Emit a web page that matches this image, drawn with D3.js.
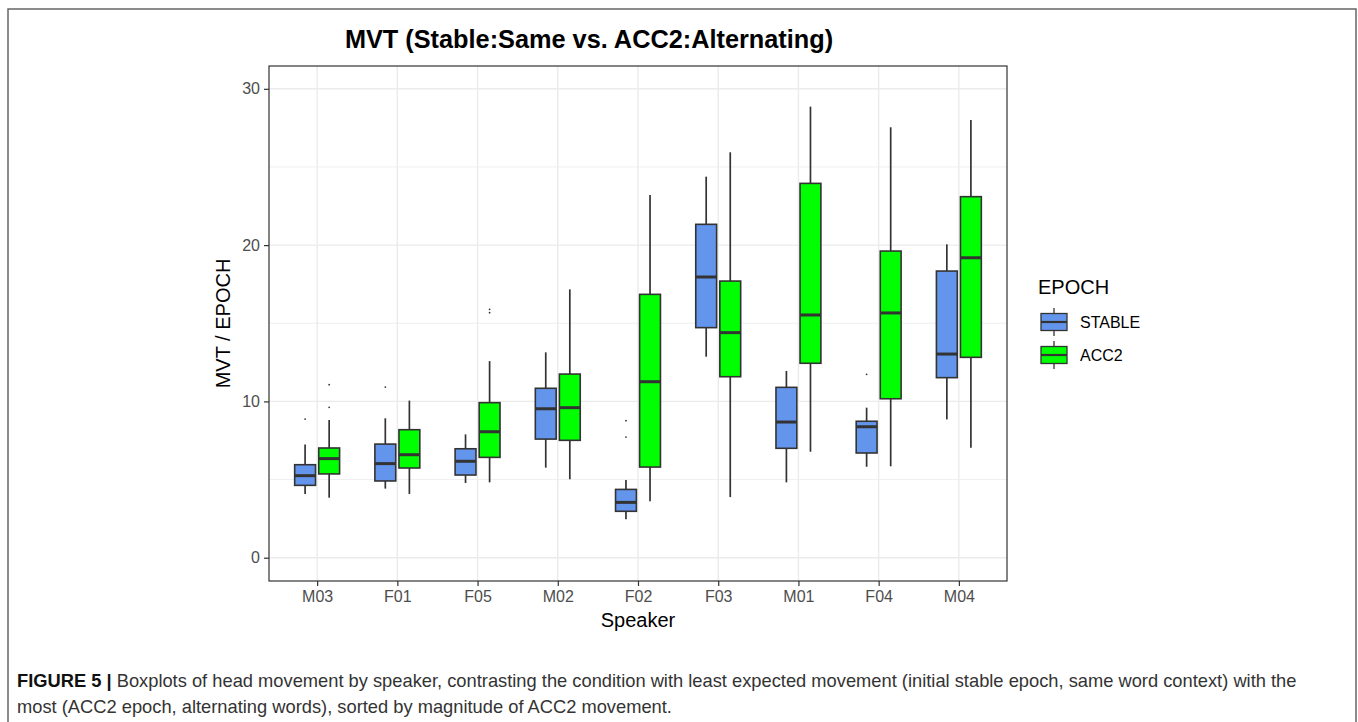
<!DOCTYPE html>
<html>
<head>
<meta charset="utf-8">
<script src="https://cdn.jsdelivr.net/npm/d3@7"></script>
<style>
  body { margin: 0; background: #fff; }
  text { font-family: "Liberation Sans", Arial, sans-serif; }
</style>
</head>
<body>
<script>
// speakers, sorted by ACC2 movement
var speakers = ["M03", "F01", "F05", "M02", "F02", "F03", "M01", "F04", "M04"];
var epochs = ["STABLE", "ACC2"];
var yTicks = [0, 10, 20, 30];
var yMinorTicks = [5, 15, 25];

// STABLE epoch: whisker low, Q1, median, Q3, whisker high, outliers
var stableLow  = [4.08, 4.42, 4.78, 5.76, 2.46, 12.86, 4.82, 5.82, 8.85];
var stableQ1   = [4.63, 4.91, 5.29, 7.59, 2.97, 14.72, 7.00, 6.70, 11.52];
var stableMed  = [5.25, 6.02, 6.17, 9.53, 3.54, 17.96, 8.68, 8.38, 13.03];
var stableQ3   = [5.95, 7.27, 6.97, 10.84, 4.37, 21.33, 10.90, 8.73, 18.34];
var stableHigh = [7.25, 8.92, 7.89, 13.14, 4.97, 24.38, 11.95, 9.60, 20.05];
var stableOut  = [[8.87], [10.92], [], [], [7.72, 8.77], [], [], [11.73], []];

// ACC2 epoch
var accLow  = [3.84, 4.08, 4.82, 5.02, 3.61, 3.88, 6.78, 5.85, 7.04];
var accQ1   = [5.36, 5.74, 6.42, 7.51, 5.80, 11.58, 12.44, 10.17, 12.82];
var accMed  = [6.34, 6.59, 8.06, 9.60, 11.26, 14.40, 15.53, 15.66, 19.19];
var accQ3   = [7.02, 8.19, 9.92, 11.75, 16.85, 17.70, 23.95, 19.62, 23.10];
var accHigh = [8.81, 10.05, 12.58, 17.17, 23.20, 25.94, 28.86, 27.54, 28.00];
var accOut  = [[9.62, 11.07], [], [15.68, 15.89], [], [], [], [], [], []];

// layout magic numbers
var w = 1358, h = 722;
var panel = {left: 269, top: 66, right: 1007, bottom: 581};
var fills = {STABLE: "#6495ED", ACC2: "#00FF00"};
var dark = "#333333";

// build rows for drawing
var boxes = [];
speakers.forEach(function(s, i) {
    boxes.push({speaker: s, epoch: "STABLE", low: stableLow[i], q1: stableQ1[i], med: stableMed[i],
                q3: stableQ3[i], high: stableHigh[i], out: stableOut[i]});
    boxes.push({speaker: s, epoch: "ACC2", low: accLow[i], q1: accQ1[i], med: accMed[i],
                q3: accQ3[i], high: accHigh[i], out: accOut[i]});
});

var svg = d3.select("body").append("svg")
    .attr("width", w)
    .attr("height", h);

// figure frame
svg.append("rect")
    .attr("x", 8).attr("y", 9)
    .attr("width", 1348).attr("height", 730)
    .attr("fill", "none")
    .attr("stroke", "#666")
    .attr("stroke-width", 1.5);

var x = d3.scalePoint()
    .domain(speakers)
    .range([panel.left, panel.right])
    .padding(0.6);
var step = x.step();

var y = d3.scaleLinear()
    .domain([-1.49, 31.46])
    .range([panel.bottom, panel.top]);

var dodge = d3.scaleOrdinal().domain(epochs).range([-0.15 * step, 0.15 * step]);
var boxW = 0.26 * step;

// grid
var grid = svg.append("g");
grid.selectAll("line.minor")
    .data(yMinorTicks).enter().append("line")
    .attr("x1", panel.left).attr("x2", panel.right)
    .attr("y1", function(d) { return y(d); }).attr("y2", function(d) { return y(d); })
    .attr("stroke", "#EBEBEB").attr("stroke-width", 0.8);
grid.selectAll("line.major")
    .data(yTicks).enter().append("line")
    .attr("x1", panel.left).attr("x2", panel.right)
    .attr("y1", function(d) { return y(d); }).attr("y2", function(d) { return y(d); })
    .attr("stroke", "#EBEBEB").attr("stroke-width", 1.4);
grid.selectAll("line.vert")
    .data(speakers).enter().append("line")
    .attr("y1", panel.top).attr("y2", panel.bottom)
    .attr("x1", function(d) { return x(d); }).attr("x2", function(d) { return x(d); })
    .attr("stroke", "#EBEBEB").attr("stroke-width", 1.4);

// boxplots
var bp = svg.append("g").selectAll("g")
    .data(boxes).enter().append("g")
    .attr("transform", function(d) { return "translate(" + (x(d.speaker) + dodge(d.epoch)) + ",0)"; });

bp.append("line")
    .attr("x1", 0).attr("x2", 0)
    .attr("y1", function(d) { return y(d.high); })
    .attr("y2", function(d) { return y(d.q3); })
    .attr("stroke", dark).attr("stroke-width", 1.7);
bp.append("line")
    .attr("x1", 0).attr("x2", 0)
    .attr("y1", function(d) { return y(d.q1); })
    .attr("y2", function(d) { return y(d.low); })
    .attr("stroke", dark).attr("stroke-width", 1.7);
bp.append("rect")
    .attr("x", -boxW / 2).attr("width", boxW)
    .attr("y", function(d) { return y(d.q3); })
    .attr("height", function(d) { return y(d.q1) - y(d.q3); })
    .attr("fill", function(d) { return fills[d.epoch]; })
    .attr("stroke", dark).attr("stroke-width", 1.6);
bp.append("line")
    .attr("x1", -boxW / 2).attr("x2", boxW / 2)
    .attr("y1", function(d) { return y(d.med); })
    .attr("y2", function(d) { return y(d.med); })
    .attr("stroke", dark).attr("stroke-width", 3);
bp.selectAll("circle")
    .data(function(d) { return d.out; }).enter().append("circle")
    .attr("cx", 0)
    .attr("cy", function(d) { return y(d); })
    .attr("r", 0.9)
    .attr("fill", dark);

// panel border
svg.append("rect")
    .attr("x", panel.left).attr("y", panel.top)
    .attr("width", panel.right - panel.left)
    .attr("height", panel.bottom - panel.top)
    .attr("fill", "none")
    .attr("stroke", dark).attr("stroke-width", 1.2);

// axes
var xAxis = svg.append("g")
    .attr("transform", "translate(0," + panel.bottom + ")")
    .call(d3.axisBottom(x).tickSize(5).tickPadding(5));
var yAxis = svg.append("g")
    .attr("transform", "translate(" + panel.left + ",0)")
    .call(d3.axisLeft(y).tickValues(yTicks).tickSize(5).tickPadding(4));
[xAxis, yAxis].forEach(function(a) {
    a.select(".domain").remove();
    a.selectAll(".tick line").attr("stroke", dark).attr("stroke-width", 1.2);
    a.selectAll(".tick text")
        .attr("fill", "#4D4D4D")
        .style("font-size", "16px")
        .style("font-family", "Liberation Sans, Arial, sans-serif");
});

// titles
svg.append("text")
    .attr("x", 589).attr("y", 48)
    .attr("text-anchor", "middle")
    .attr("font-size", 25.3).attr("font-weight", "bold")
    .text("MVT (Stable:Same vs. ACC2:Alternating)");

svg.append("text")
    .attr("x", (panel.left + panel.right) / 2).attr("y", 627)
    .attr("text-anchor", "middle")
    .attr("font-size", 20)
    .text("Speaker");

svg.append("text")
    .attr("transform", "translate(230," + (panel.top + panel.bottom) / 2 + ") rotate(-90)")
    .attr("text-anchor", "middle")
    .attr("font-size", 20)
    .text("MVT / EPOCH");

// legend
var legend = svg.append("g").attr("transform", "translate(1038,0)");
legend.append("text")
    .attr("x", 0).attr("y", 294)
    .attr("font-size", 20)
    .text("EPOCH");
var keys = legend.selectAll("g.key")
    .data(epochs).enter().append("g")
    .attr("transform", function(d, i) { return "translate(0," + (322 + i * 33) + ")"; });
keys.append("line")
    .attr("x1", 16).attr("x2", 16).attr("y1", -14).attr("y2", 14)
    .attr("stroke", dark).attr("stroke-width", 1.3);
keys.append("rect")
    .attr("x", 3).attr("y", -8.5).attr("width", 26).attr("height", 17)
    .attr("fill", function(d) { return fills[d]; })
    .attr("stroke", dark).attr("stroke-width", 1.3);
keys.append("line")
    .attr("x1", 3).attr("x2", 29).attr("y1", 0).attr("y2", 0)
    .attr("stroke", dark).attr("stroke-width", 2.2);
keys.append("text")
    .attr("x", 42).attr("y", 6)
    .attr("font-size", 16)
    .text(function(d) { return d; });

// caption
var captionLines = [
    "Boxplots of head movement by speaker, contrasting the condition with least expected movement (initial stable epoch, same word context) with the",
    "most (ACC2 epoch, alternating words), sorted by magnitude of ACC2 movement."
];
var cap1 = svg.append("text")
    .attr("x", 17).attr("y", 687)
    .attr("font-size", 15)
    .attr("fill", "#333");
cap1.append("tspan").attr("font-weight", "bold").attr("fill", "#111").text("FIGURE 5 | ");
cap1.append("tspan").text(captionLines[0]);
var cap2 = svg.append("text")
    .attr("x", 17).attr("y", 713)
    .attr("font-size", 15)
    .attr("fill", "#333")
    .text(captionLines[1]);

// fit the caption to the width it has in the figure
var capSize = 15 * 1281 / cap1.node().getComputedTextLength();
cap1.attr("font-size", capSize);
cap2.attr("font-size", capSize);
</script>
</body>
</html>
